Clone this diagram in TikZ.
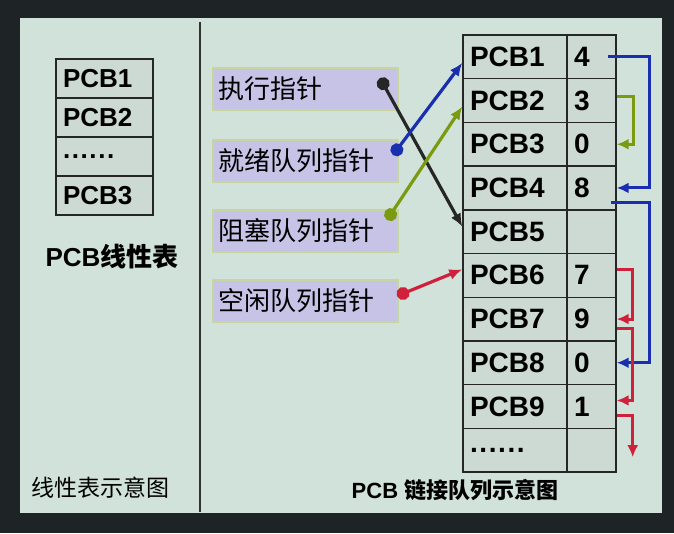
\documentclass[tikz,border=0pt]{standalone}
\usepackage{fontspec}
\setmainfont{Liberation Sans}
\newfontfamily\cjk{Noto Sans CJK SC}
\usetikzlibrary{arrows.meta}

\definecolor{frame}{HTML}{1E2426}
\definecolor{slidebg}{HTML}{D0E2DA}
\definecolor{cellbg}{HTML}{CCDAD3}
\definecolor{ptrbg}{HTML}{C6C3E6}
\definecolor{ptrline}{HTML}{C5D6A0}
\definecolor{linkblue}{HTML}{1A2FB0}
\definecolor{linkgreen}{HTML}{7A9A10}
\definecolor{linkred}{HTML}{D0203A}
\newcommand\sixdots{.\kern1.6pt.\kern1.6pt.\kern1.6pt.\kern1.6pt.\kern1.6pt.}

\begin{document}
\begin{tikzpicture}[x=1pt, y=-1pt,
   cell/.style={draw=black!85, line width=1.4pt, fill=cellbg, inner ysep=0pt,
                align=left, font=\fontsize{28}{30}\selectfont\bfseries},
   namecell/.style={cell, inner xsep=7pt, text width=90pt, minimum height=43.7pt},
   valcell/.style={cell, inner xsep=7pt, text width=35pt, minimum height=43.7pt},
   listcell/.style={cell, inner xsep=7pt, text width=83pt, minimum height=39pt,
                font=\fontsize{26}{28}\selectfont\bfseries},
   ptrbox/.style={draw=ptrline, line width=1.5pt, fill=ptrbg, inner xsep=5pt,
                text width=175pt, minimum height=42pt, align=left,
                font=\fontsize{26}{28}\selectfont\cjk},
   ptr/.style={line width=3.2pt, {Circle[length=13pt]}-{Latex[length=13pt,width=11pt]}},
   link/.style={line width=3pt, -{Latex[length=12pt,width=11pt]}}]

   \useasboundingbox[fill=frame] (0,0) rectangle (674,533);
   \fill[slidebg] (20,18) rectangle (662,513);
   \draw[line width=2pt, black!80] (200,22) -- (200,512);

   % linear table
   \foreach \i/\n in {1/PCB1, 2/PCB2, 3/\sixdots, 4/PCB3}
      \node[listcell] (l\i) at (104.5,{59+(\i-0.5)*39}) {\n};
   \node[font=\fontsize{26}{28}\selectfont\bfseries] (cap1) at (112,257) {PCB{\cjk 线性表}};
   \node[anchor=west, font=\fontsize{23}{26}\selectfont\cjk] (cap2) at (28,488) {线性表示意图};

   % pointers
   \node[ptrbox] (p1) at (305.5,89) {执行指针};
   \node[ptrbox] (p2) at (305.5,161) {就绪队列指针};
   \node[ptrbox] (p3) at (305.5,231) {阻塞队列指针};
   \node[ptrbox] (p4) at (305.5,301) {空闲队列指针};
   \coordinate (d1) at (380,78);
   \coordinate (d2) at (393,155);
   \coordinate (d3) at (387,220);
   \coordinate (d4) at (397,296);

   % linked table
   \foreach \i/\n/\v in {1/PCB1/4, 2/PCB2/3, 3/PCB3/0, 4/PCB4/8, 5/PCB5/\phantom{0},
                         6/PCB6/7, 7/PCB7/9, 8/PCB8/0, 9/PCB9/1, 10/\sixdots/\phantom{0}}{
      \node[namecell] (r\i) at (515,{35+(\i-0.5)*43.7}) {\n};
      \node[valcell] (v\i) at (591.5,{35+(\i-0.5)*43.7}) {\v};
   }
   \node[font=\fontsize{22}{26}\selectfont\bfseries] (cap3) at (455,490) {PCB {\cjk 链接队列示意图}};

   \draw[ptr, black!85] (d1) -- ([yshift=5pt]r5.west);
   \draw[ptr, linkblue] (d2) -- ([yshift=-6pt]r1.west);
   \draw[ptr, linkgreen] (d3) -- ([yshift=-6pt]r2.west);
   \draw[ptr, linkred] (d4) -- ([yshift=6pt]r6.west);

   \draw[link, linkblue] ([xshift=-9pt]v1.east) -- ++(42,0) |- (v4.east);
   \draw[link, linkblue] ([xshift=-6pt,yshift=-15pt]v4.east) -- ++(39,0) |- (v8.east);
   \draw[link, linkgreen] ([yshift=4pt]v2.east) -- ++(17,0) |- (v3.east);
   \draw[link, linkred] ([yshift=6pt]v6.east) -- ++(16,0) |- (v7.east);
   \draw[link, linkred] ([yshift=-9pt]v7.east) -- ++(16,0) |- ([yshift=6pt]v9.east);
   \draw[link, linkred] ([yshift=-9pt]v9.east) -- ++(16,0) -- ([xshift=16pt,yshift=-7pt]v10.east);
\end{tikzpicture}
\end{document}
